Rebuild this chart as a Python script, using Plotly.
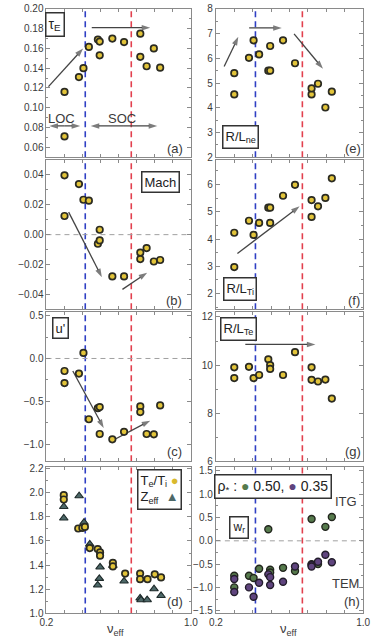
import plotly.graph_objects as go

# ---------------- data ----------------
nu_eff = [0.30, 0.30, 0.38, 0.405, 0.435, 0.485, 0.495, 0.495, 0.565, 0.63, 0.72, 0.72, 0.755, 0.795, 0.83]

tau_E = [0.116, 0.071, 0.131, 0.140, 0.1615, 0.169, 0.167, 0.153, 0.170, 0.1665, 0.175, 0.1515, 0.142, 0.160, 0.1405]
mach = [0.0398, 0.0125, 0.0339, 0.0234, 0.0228, -0.0061, 0.0033, -0.0039, -0.028, -0.028, -0.012, -0.0164, -0.009, -0.018, -0.017]
u_prime = [-0.146, -0.287, -0.176, 0.065, -0.709, -0.58, -0.567, -0.881, -0.943, -0.855, -0.559, -0.625, -0.881, -0.885, -0.548]
rl_ne = [5.40, 4.54, 6.02, 6.73, 6.16, 5.50, 6.50, 5.50, 6.73, 5.80, 4.54, 4.78, 4.97, 4.01, 4.65]
rl_ti = [4.23, 2.97, 4.67, 4.15, 4.59, 5.15, 5.15, 4.59, 5.59, 5.99, 5.43, 4.81, 5.20, 5.51, 6.23]
rl_te = [9.91, 9.46, 9.93, 9.46, 9.59, 10.24, 10.0, 9.84, 9.59, 10.54, 9.91, 9.39, 9.32, 9.40, 8.61]

te_ti_x = [0.296, 0.296, 0.376, 0.399, 0.413, 0.44, 0.484, 0.497, 0.497, 0.568, 0.568, 0.636, 0.719, 0.719, 0.76, 0.80, 0.835]
te_ti = [1.979, 1.943, 1.703, 1.708, 1.716, 1.541, 1.533, 1.505, 1.478, 1.419, 1.389, 1.330, 1.330, 1.284, 1.284, 1.324, 1.298]
zeff_x = [0.296, 0.296, 0.381, 0.408, 0.44, 0.497, 0.493, 0.484, 0.568, 0.63, 0.719, 0.724, 0.758, 0.796, 0.835]
zeff = [1.884, 1.789, 1.973, 1.754, 1.573, 1.384, 1.289, 1.235, 1.397, 1.268, 1.127, 1.113, 1.113, 1.203, 1.148]

wr_rho050 = [-0.75, -1.00, -0.75, -0.80, -0.60, 0.25, -0.62, -0.68, -0.58, -0.65, 0.47, -0.50, -0.50, 0.30, 0.51]
wr_rho035 = [-0.82, -1.10, -1.00, -1.20, -0.90, -0.72, -0.95, -0.78, -0.88, -0.55, -0.52, -0.55, -0.45, -0.30, -0.46]

nu_loc_soc = 0.415   # blue dashed
nu_right = 0.67      # red dashed

x_major = [0.2, 1.0]
x_minor = [0.3, 0.4, 0.5, 0.6, 0.7, 0.8, 0.9]

# trend arrows: (panel, tail_x, tail_y, head_x, head_y, double-headed)
arrows = [
    (1, 0.211, 0.1214, 0.403, 0.160, False),
    (1, 0.451, 0.181, 0.775, 0.181, False),
    (1, 0.216, 0.0816, 0.387, 0.0816, True),
    (1, 0.445, 0.0816, 0.814, 0.0816, True),
    (2, 0.323, 0.0151, 0.507, -0.0285, False),
    (2, 0.621, -0.0367, 0.758, -0.0255, False),
    (3, 0.346, -0.146, 0.517, -0.810, False),
    (3, 0.556, -0.969, 0.775, -0.725, False),
    (5, 0.245, 5.67, 0.322, 6.87, False),
    (5, 0.381, 7.23, 0.558, 7.23, False),
    (5, 0.625, 6.99, 0.782, 5.58, False),
    (6, 0.317, 3.47, 0.655, 5.20, False),
    (7, 0.36, 10.86, 0.741, 10.86, False),
]

# ---------------- layout helpers ----------------
W, H = 373, 644
def fx(px):
    return px / W
def fy(py):
    return 1 - py / H

def xr(i):
    return "x" if i == 1 else f"x{i}"
def yr_(i):
    return "y" if i == 1 else f"y{i}"

col_dom = {0: [fx(41), fx(191)], 1: [fx(217), fx(370)]}
row_dom = {0: [fy(154), fy(3)], 1: [fy(309), fy(157)], 2: [fy(464), fy(312)], 3: [fy(619), fy(470)]}

# panel: (col,row, yrange, dtick, tickformat)
panel_cfg = {
    1: (0, 0, [0.05, 0.20], 0.02, ".2f"),
    2: (0, 1, [-0.05, 0.05], 0.02, ".2f"),
    3: (0, 2, [-1.2, 0.54], 0.5, ".1f"),
    4: (0, 3, [1.0, 2.21], 0.2, ".1f"),
    5: (1, 0, [2, 8], 1, "d"),
    6: (1, 1, [1.42, 6.9], 1, "d"),
    7: (1, 2, [6, 12.2], 2, "d"),
    8: (1, 3, [-1.56, 1.58], 0.5, ".1f"),
}

FONT = "Liberation Sans, Arial, sans-serif"
FRAME = "#8a8a8a"
TXT = "#3a3a3a"
YELLOW = "#e2c43a"
RING = "#2b2b22"
ARROW = "#444444"
MS = 6.5

fig = go.Figure()

# arrows first (drawn under the points)
def arrow_trace(i, x0, y0, x1, y1):
    fig.add_trace(go.Scatter(
        x=[x0, x1], y=[y0, y1], mode="lines+markers", showlegend=False, hoverinfo="skip",
        xaxis=xr(i), yaxis=yr_(i),
        line=dict(color=ARROW, width=1.3),
        marker=dict(symbol=["circle", "arrow"], size=[0, 9], angleref="previous",
                    color=ARROW, line=dict(width=0)),
    ))

for (i, tx, ty, hx, hy, dbl) in arrows:
    if dbl:
        mx, my = (tx + hx) / 2, (ty + hy) / 2
        arrow_trace(i, mx, my, hx, hy)
        arrow_trace(i, mx, my, tx, ty)
    else:
        arrow_trace(i, tx, ty, hx, hy)

def circ(x, y, i, name):
    fig.add_trace(go.Scatter(
        x=x, y=y, mode="markers", name=name, showlegend=False,
        xaxis=xr(i), yaxis=yr_(i),
        marker=dict(symbol="circle", size=MS, color=YELLOW, line=dict(color=RING, width=1.7)),
    ))

circ(nu_eff, tau_E, 1, "tau_E")
circ(nu_eff, mach, 2, "Mach")
circ(nu_eff, u_prime, 3, "u'")
fig.add_trace(go.Scatter(
    x=zeff_x, y=zeff, mode="markers", showlegend=False, xaxis="x4", yaxis="y4",
    marker=dict(symbol="triangle-up", size=7.5, color="#4d6868", line=dict(color="#1e2a2a", width=1.1)),
))
circ(te_ti_x, te_ti, 4, "Te/Ti")
circ(nu_eff, rl_ne, 5, "R/Lne")
circ(nu_eff, rl_ti, 6, "R/LTi")
circ(nu_eff, rl_te, 7, "R/LTe")
fig.add_trace(go.Scatter(
    x=nu_eff, y=wr_rho050, mode="markers", showlegend=False, xaxis="x8", yaxis="y8",
    marker=dict(symbol="circle", size=7, color="#567a4c", line=dict(color="#22261e", width=1.4)),
))
fig.add_trace(go.Scatter(
    x=nu_eff, y=wr_rho035, mode="markers", showlegend=False, xaxis="x8", yaxis="y8",
    marker=dict(symbol="circle", size=7, color="#5f447e", line=dict(color="#231d2b", width=1.4)),
))

layout = dict(
    width=W, height=H, margin=dict(l=0, r=0, t=0, b=0),
    paper_bgcolor="white", plot_bgcolor="white",
    font=dict(family=FONT, size=10, color=TXT),
    showlegend=False,
)
shapes = []
for i, (c, r, yrng, dt, fmt) in panel_cfg.items():
    sfx = "" if i == 1 else str(i)
    layout["xaxis" + sfx] = dict(
        domain=col_dom[c], range=[0.2, 1.0], anchor=yr_(i),
        tickmode="array", tickvals=x_major, tickformat=".1f",
        showticklabels=(r == 3),
        ticks="inside", ticklen=3, tickcolor=FRAME, mirror="allticks",
        minor=dict(tickmode="array", tickvals=x_minor, ticks="inside", ticklen=3, tickcolor=FRAME),
        showline=True, linecolor=FRAME, linewidth=1,
        showgrid=False, zeroline=False, tickfont=dict(size=10, color=TXT),
    )
    layout["yaxis" + sfx] = dict(
        domain=row_dom[r], range=yrng, anchor=xr(i),
        tickmode="linear", tick0=0, dtick=dt, tickformat=fmt,
        ticks="inside", ticklen=4, tickcolor=FRAME, mirror="allticks",
        minor=dict(ticks="inside", ticklen=2, tickcolor=FRAME, nticks=3),
        showline=True, linecolor=FRAME, linewidth=1,
        showgrid=False, zeroline=False, tickfont=dict(size=10, color=TXT),
    )
    for xv, colr in ((nu_loc_soc, "#2f3fc4"), (nu_right, "#e2404e")):
        shapes.append(dict(type="line", xref=xr(i), yref=f"{yr_(i)} domain",
                           x0=xv, x1=xv, y0=0, y1=1, layer="below",
                           line=dict(color=colr, width=1.6, dash="6px,4px")))
for i in (2, 3, 8):
    shapes.append(dict(type="line", xref=f"{xr(i)} domain", yref=yr_(i),
                       x0=0, x1=1, y0=0, y1=0, layer="below",
                       line=dict(color="#a0a0a0", width=1, dash="5px,4px")))
layout["shapes"] = shapes

ann = []
ann.append(dict(xref="x", yref="y", x=0.285, y=0.0896, text="LOC", showarrow=False,
                font=dict(size=13, color=TXT)))
ann.append(dict(xref="x", yref="y", x=0.621, y=0.0896, text="SOC", showarrow=False,
                font=dict(size=13, color=TXT)))

def box(px, py, text, size=14, **kw):
    ann.append(dict(xref="paper", yref="paper", x=fx(px), y=fy(py), text=text,
                    showarrow=False, xanchor="center", yanchor="middle",
                    bordercolor="#333", borderwidth=1.5, borderpad=2, bgcolor="white",
                    font=dict(size=size, color="#222"), **kw))

box(50, 19, "τ<sub>E</sub>", 14)
box(160, 179, "Mach", 13)
box(56, 328, "u'", 13)
box(158, 493, "T<sub>e</sub>/T<sub>i</sub> <span style='color:#d9b92e'>●</span><br>Z<sub>eff</sub>  <span style='color:#4d6868'>▲</span>", 13, align="left")
box(243, 133, "R/L<sub>ne</sub>", 13)
box(242, 288, "R/L<sub>Ti</sub>", 13)
box(241, 329, "R/L<sub>Te</sub>", 13)
box(276, 490, "ρ<sub>*</sub> : <span style='color:#567a4c'>●</span> 0.50, <span style='color:#5f447e'>●</span> 0.35", 14)
box(241, 531, "w<sub>r</sub>", 12)

def lab(px, py, text, size=13):
    ann.append(dict(xref="paper", yref="paper", x=fx(px), y=fy(py), text=text,
                    showarrow=False, xanchor="center", yanchor="middle",
                    font=dict(size=size, color=TXT)))

for t, (px, py) in {"(a)": (175, 145), "(b)": (174, 300), "(c)": (174, 454), "(d)": (175, 607),
                    "(e)": (360, 145), "(f)": (361, 300), "(g)": (359, 454), "(h)": (358, 607)}.items():
    lab(px, py, t)
lab(352, 505, "ITG", 13)
lab(352, 588, "TEM", 13)
lab(113, 635, "ν<sub>eff</sub>", 13)
lab(292, 635, "ν<sub>eff</sub>", 13)

layout["annotations"] = ann
fig.update_layout(**layout)
fig.write_html("out.html")
